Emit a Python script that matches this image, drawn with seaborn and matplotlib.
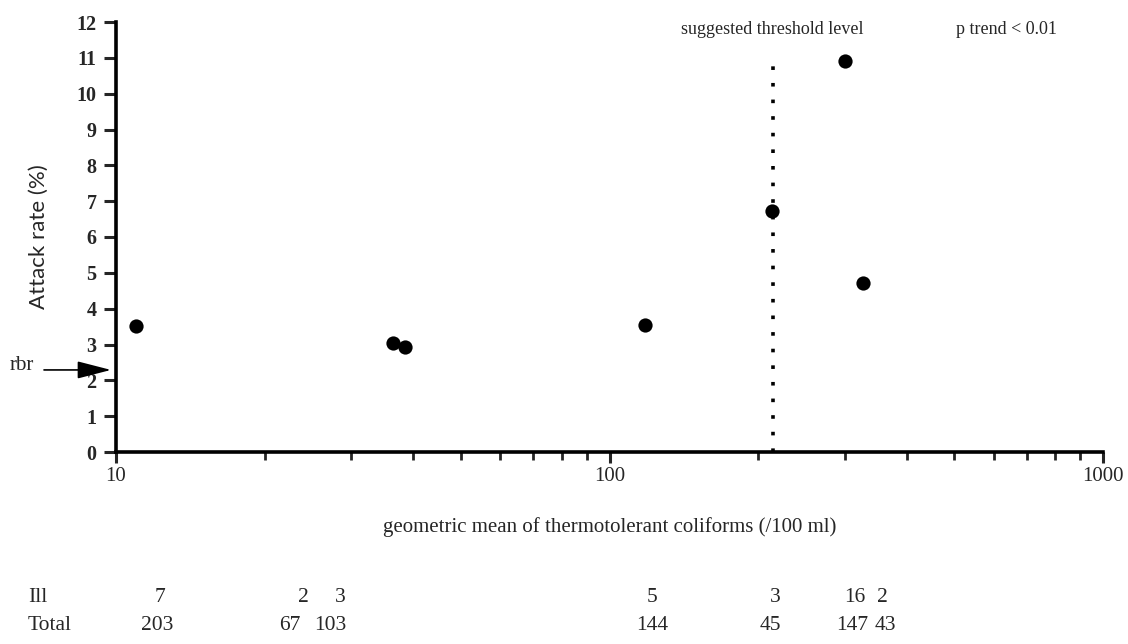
import matplotlib
matplotlib.use("Agg")
import matplotlib.pyplot as plt
import seaborn as sns
import pandas as pd
from matplotlib.ticker import FixedLocator, NullFormatter

# ---- data ----
coliforms = [11, 36.5, 38.6, 118, 213, 300, 326]
attack_rate = [3.52, 3.04, 2.93, 3.55, 6.73, 10.9, 4.72]
ill = ["7", "2", "3", "5", "3", "16", "2"]
total = ["203", "67", "103", "144", "45", "147", "43"]
threshold = 214
threshold_top = 10.85
rbr_level = 2.29
y_ticks = list(range(0, 13))
x_major = [10, 100, 1000]

# layout of the count table (figure pixel x positions)
ill_px = [160, 303, 340, 652, 775, 855, 882]
total_px = [157, 290, 330, 652, 770, 852, 885]

sns.set_style("ticks")
plt.rcParams['font.family'] = ['Liberation Serif', 'DejaVu Serif']

W, H = 1128, 644
fig = plt.figure(figsize=(W / 100, H / 100), dpi=100)
ax_w = 1103 - 116
ax = fig.add_axes([116 / W, 1 - 452 / H, ax_w / W, (452 - 22) / H])

df = pd.DataFrame({"x": coliforms, "y": attack_rate})
sns.scatterplot(data=df, x="x", y="y", ax=ax, color="black", s=105,
                edgecolor="black", linewidth=0, zorder=5, clip_on=False)

ax.set_xscale("log")
ax.set_xlim(10, 1000)
ax.set_ylim(0, 12)
ax.xaxis.set_major_locator(FixedLocator(x_major))
ax.set_xticklabels([str(v) for v in x_major])
minor = [m * d for d in (10, 100) for m in range(2, 10)]
ax.xaxis.set_minor_locator(FixedLocator(minor))
ax.xaxis.set_minor_formatter(NullFormatter())
ax.set_yticks(y_ticks)
ax.set_yticklabels([str(v) for v in y_ticks], fontweight="bold")

for side in ("top", "right"):
    ax.spines[side].set_visible(False)
for side in ("left", "bottom"):
    ax.spines[side].set_linewidth(2.6)
    ax.spines[side].set_color("black")

ax.tick_params(axis="y", which="major", direction="out", length=9, width=2.2,
               labelsize=14.5, pad=5)
ax.tick_params(axis="x", which="major", direction="out", length=8, width=2.2,
               labelsize=15, pad=3)
ax.tick_params(axis="x", which="minor", direction="out", length=6, width=2.0)

ax.set_xlabel("geometric mean of thermotolerant coliforms (/100 ml)",
              fontsize=15, labelpad=22)
ax.set_ylabel("Attack rate (%)", fontsize=16, labelpad=20,
              family=["Lato", "DejaVu Sans"])

# threshold line
ax.plot([threshold, threshold], [0, threshold_top], color="black",
        linestyle=(0, (1, 3.6)), linewidth=2.6, zorder=3)
ax.text(threshold, 11.8, "suggested threshold level", ha="center",
        va="center", fontsize=13)
ax.text(0.902, 11.8, "p trend < 0.01", transform=ax.get_yaxis_transform(),
        ha="center", va="center", fontsize=13)

# rbr arrow
ax.annotate("", xy=(-5 / ax_w, rbr_level), xycoords=("axes fraction", "data"),
            xytext=(-67 * 0.72, 0), textcoords="offset points",
            arrowprops=dict(arrowstyle="-|>,head_length=2.1,head_width=0.54",
                            mutation_scale=10, color="black", lw=1.2,
                            shrinkA=0, shrinkB=0),
            annotation_clip=False)
fig.text(10 / W, 1 - 365 / H, "rbr", ha="left", va="center", fontsize=15)

# count table
fig.text(28 / W, 1 - 598 / H, "Ill", ha="left", va="center", fontsize=15.5)
fig.text(28 / W, 1 - 625 / H, "Total", ha="left", va="center", fontsize=15.5)
for px, t in zip(ill_px, ill):
    fig.text(px / W, 1 - 598 / H, t, ha="center", va="center", fontsize=15.5)
for px, t in zip(total_px, total):
    fig.text(px / W, 1 - 625 / H, t, ha="center", va="center", fontsize=15.5)

fig.savefig("out.png", dpi=100)
